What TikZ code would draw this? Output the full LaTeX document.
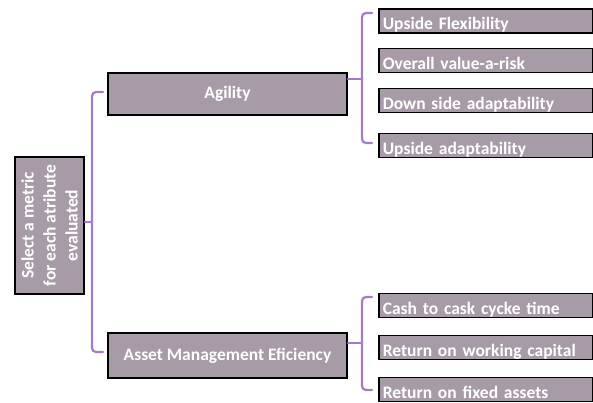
\documentclass[tikz,border=0pt]{standalone}
\usepackage{fontspec}
\setmainfont{Carlito}
\definecolor{boxfill}{RGB}{168,155,168}
\definecolor{brcol}{RGB}{163,124,200}
\tikzset{
  box/.style={draw=black, line width=1.6pt, fill=boxfill, text=white,
    font=\bfseries\fontsize{17.5}{22}\selectfont},
  midbox/.style={box, minimum width=239pt, minimum height=42pt, inner sep=0pt},
  leafbox/.style={box, anchor=west, text width=206pt, inner xsep=4pt,
    inner ysep=2pt, text height=19pt, text depth=1pt, align=left},
  br/.style={draw=brcol, line width=2.2pt, rounded corners=4pt, line cap=round}
}
\begin{document}
\begin{tikzpicture}[x=1pt,y=-1pt]
\useasboundingbox (0,0) rectangle (593,403);
% root
\node[box, rotate=90, minimum width=137pt, minimum height=69pt, inner sep=0pt,
  align=center] (root) at (49.5,225.5) {Select a metric\\for each atribute\\evaluated};
% middle level
\node[midbox] (agility) at (227.5,94) {Agility};
\node[midbox, minimum height=45pt] (ame) at (227.5,355.5) {Asset Management Eficiency};
% leaves
\node[leafbox] (uf) at (378,21) {Upside Flexibility};
\node[leafbox] (ov) at (378,60.5) {Overall value-a-risk};
\node[leafbox] (ds) at (378,100.5) {Down side adaptability};
\node[leafbox] (ua) at (378,145.5) {Upside adaptability};
\node[leafbox] (cc) at (378,305.5) {Cash to cask cycke time};
\node[leafbox] (rw) at (378,347.5) {Return on working capital};
\node[leafbox] (rf) at (378,389.5) {Return on fixed assets};
% left bracket
\coordinate (bLtop) at (103,92);
\coordinate (bLmid) at (92,222);
\coordinate (bLbot) at (103,352);
\draw[br] (bLtop) -| (bLmid) |- (bLbot);
\draw[br] (root.south |- bLmid) -- (bLmid);
% agility bracket
\coordinate (bAtop) at (372,13);
\coordinate (bAmid) at (362,79);
\coordinate (bAbot) at (372,143);
\draw[br] (bAtop) -| (bAmid) |- (bAbot);
\draw[br] (agility.east |- bAmid) -- (bAmid);
% ame bracket
\coordinate (bBtop) at (372,297);
\coordinate (bBmid) at (362,343);
\coordinate (bBbot) at (372,390);
\draw[br] (bBtop) -| (bBmid) |- (bBbot);
\draw[br] (ame.east |- bBmid) -- (bBmid);
\end{tikzpicture}
\end{document}
